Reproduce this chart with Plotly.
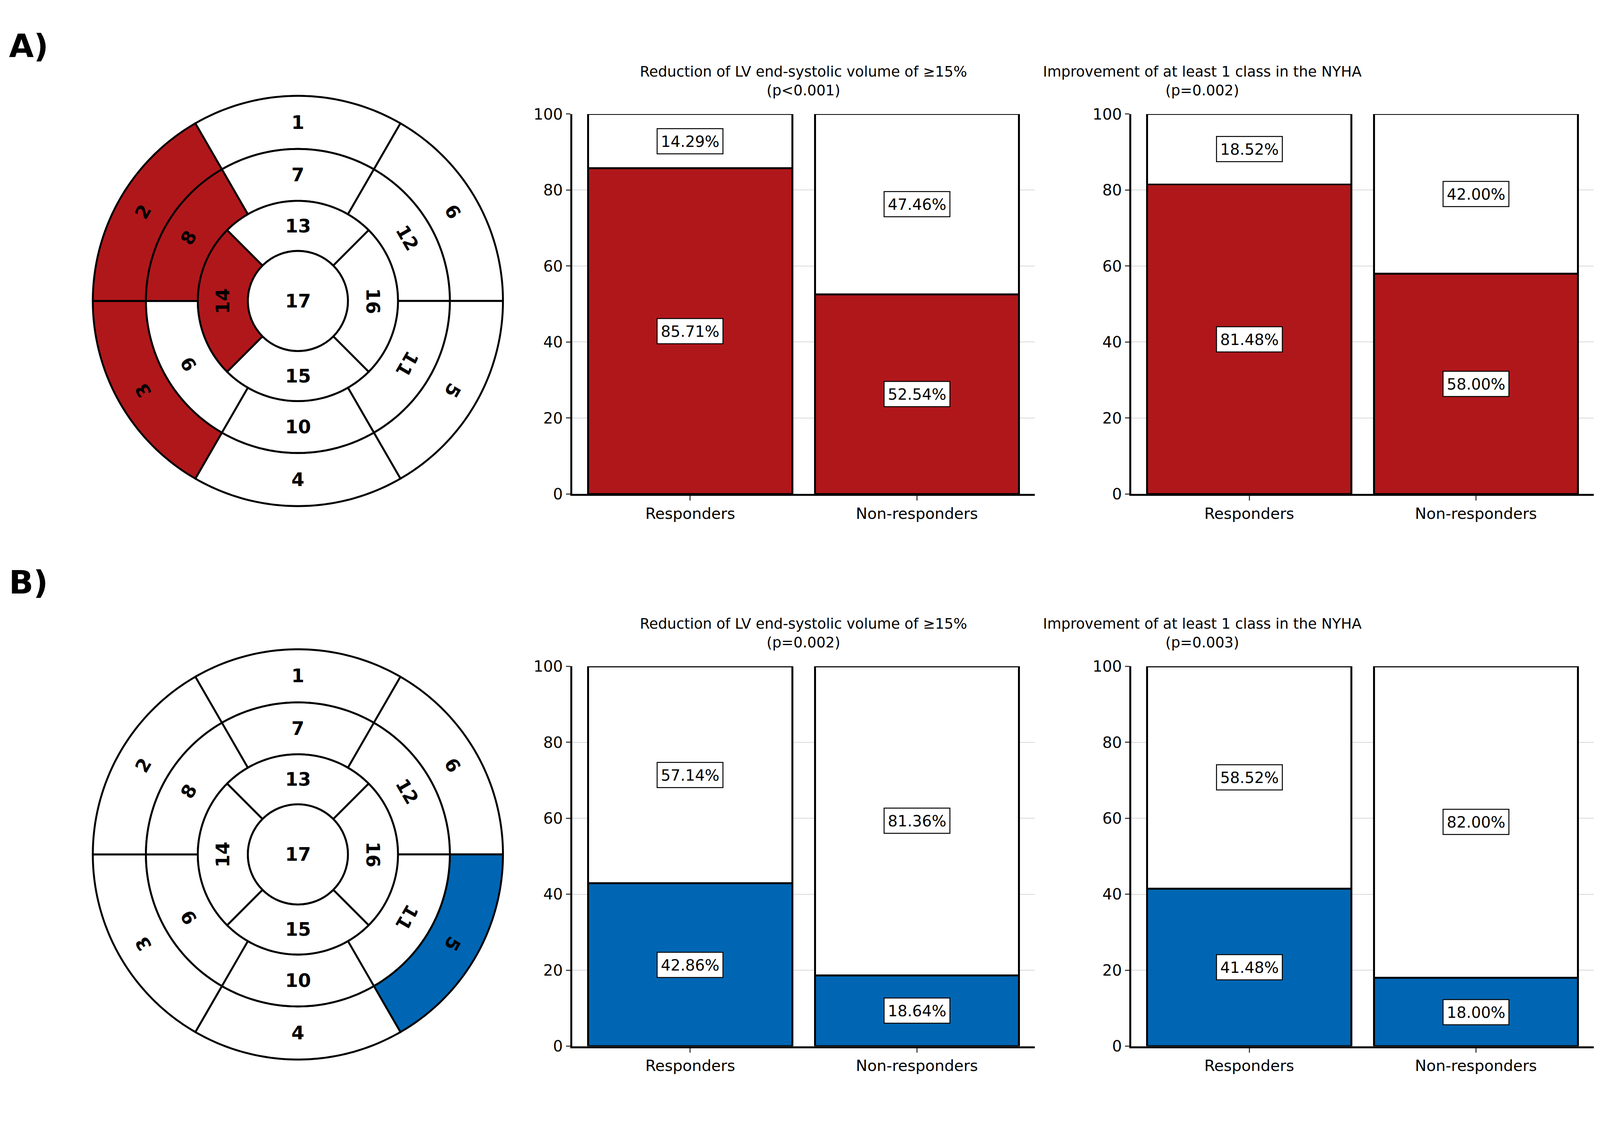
import numpy as np
import plotly.graph_objects as go

K = 1 / 1.22  # page zoom compensation
BH = 922.0

categories = ["Responders", "Non-responders"]
titles = ["Reduction of LV end-systolic volume of ≥15%", "Improvement of at least 1 class in the NYHA"]
pvals_A = ["p&lt;0.001", "p=0.002"]
pvals_B = ["p=0.002", "p=0.003"]
A1_bottom = [85.71, 52.54]; A1_top = [14.29, 47.46]
A2_bottom = [81.48, 58.00]; A2_top = [18.52, 42.00]
B1_bottom = [42.86, 18.64]; B1_top = [57.14, 81.36]
B2_bottom = [41.48, 18.00]; B2_top = [58.52, 82.00]
highlight_A = [2, 3, 8, 14]
highlight_B = [5]
RED = "#b0171b"
BLUE = "#0066b3"

FONT = "DejaVu Sans"
LW = 6 * K

def px_x(a, b):
    return [a / 1568.0, b / 1568.0]

def px_y(top, bot):
    return [1 - bot / BH, 1 - top / BH]

fig = go.Figure()
layout = dict(autosize=True, margin=dict(l=0, r=0, t=0, b=0),
              plot_bgcolor="white", paper_bgcolor="white", showlegend=False,
              font=dict(family=FONT, size=46 * K, color="black"))
shapes = []
annotations = []

panels = [
    ("x1", "y1", px_x(560, 1015), px_y(84, 397), A1_bottom, A1_top, RED, titles[0], pvals_A[0]),
    ("x2", "y2", px_x(1110, 1565), px_y(84, 397), A2_bottom, A2_top, RED, titles[1], pvals_A[1]),
    ("x3", "y3", px_x(560, 1015), px_y(539, 852), B1_bottom, B1_top, BLUE, titles[0], pvals_B[0]),
    ("x4", "y4", px_x(1110, 1565), px_y(539, 852), B2_bottom, B2_top, BLUE, titles[1], pvals_B[1]),
]
for i, (xa, ya, xd, yd, bot, top, col, title, p) in enumerate(panels):
    n = i + 1
    fig.add_trace(go.Bar(x=categories, y=bot, marker=dict(color=col, line=dict(color="black", width=LW)),
                         width=0.9, xaxis=xa, yaxis=ya))
    fig.add_trace(go.Bar(x=categories, y=top, marker=dict(color="white", line=dict(color="black", width=LW)),
                         width=0.9, xaxis=xa, yaxis=ya))
    layout[f"xaxis{n}"] = dict(domain=xd, range=[-0.52, 1.52], anchor=ya, showline=True, linecolor="black",
                               linewidth=LW, ticks="outside", ticklen=14 * K, tickwidth=4 * K, showgrid=False,
                               tickfont=dict(size=48 * K))
    layout[f"yaxis{n}"] = dict(domain=yd, range=[0, 100], anchor=xa, showline=True, linecolor="black",
                               linewidth=LW, ticks="outside", ticklen=14 * K, tickwidth=4 * K, dtick=20,
                               showgrid=True, gridcolor="#d9d9d9", gridwidth=3 * K, zeroline=False,
                               tickfont=dict(size=48 * K))
    for c, b, t in zip(categories, bot, top):
        for val, yy in ((b, b / 2), (t, b + t / 2)):
            annotations.append(dict(x=c, y=yy, xref=xa, yref=ya, text=f"{val:.2f}%", showarrow=False,
                                    font=dict(size=48 * K), bgcolor="white", bordercolor="black",
                                    borderwidth=3 * K, borderpad=10 * K))
    annotations.append(dict(x=(xd[0] + xd[1]) / 2, y=yd[1] + 12 / BH, xref="paper", yref="paper",
                            text=f"{title}<br>({p})", showarrow=False, yanchor="bottom",
                            font=dict(size=45 * K)))
layout["barmode"] = "stack"

radii = [0.0, 0.244, 0.488, 0.741, 1.0]
segs = []
starts6 = [60, 0, 300, 240, 180, 120]
for lab, s in zip([1, 6, 5, 4, 3, 2], starts6):
    segs.append((lab, radii[3], radii[4], s, s + 60))
for lab, s in zip([7, 12, 11, 10, 9, 8], starts6):
    segs.append((lab, radii[2], radii[3], s, s + 60))
for lab, s in zip([13, 16, 15, 14], [45, -45, 225, 135]):
    segs.append((lab, radii[1], radii[2], s, s + 90))

def sector_path(r0, r1, a0, a1):
    t = np.radians(np.linspace(a0, a1, 60))
    pts = [(r1 * np.cos(a), r1 * np.sin(a)) for a in t] + [(r0 * np.cos(a), r0 * np.sin(a)) for a in t[::-1]]
    return "M " + " L ".join(f"{x:.4f},{y:.4f}" for x, y in pts) + " Z"

bulls = [("x5", "y5", px_x(80, 500), px_y(28, 448), highlight_A, RED, 5),
         ("x6", "y6", px_x(80, 500), px_y(484, 904), highlight_B, BLUE, 6)]
for xa, ya, xd, yd, hl, col, n in bulls:
    R = 210 / 205
    layout[f"xaxis{n}"] = dict(domain=xd, range=[-R, R], visible=False, anchor=ya)
    layout[f"yaxis{n}"] = dict(domain=yd, range=[-R, R], visible=False, anchor=xa,
                               scaleanchor=xa, scaleratio=1)
    for lab, r0, r1, a0, a1 in segs:
        shapes.append(dict(type="path", path=sector_path(r0, r1, a0, a1), xref=xa, yref=ya,
                           fillcolor=col if lab in hl else "white", line=dict(color="black", width=LW)))
        th = (a0 + a1) / 2
        rm = (r0 + r1) / 2
        ang = 0 if (th % 180) == 90 else ((90 - th + 180) % 360 - 180)
        annotations.append(dict(x=rm * np.cos(np.radians(th)), y=rm * np.sin(np.radians(th)), xref=xa, yref=ya,
                                text=f"<b>{lab}</b>", showarrow=False, textangle=ang, font=dict(size=58 * K)))
    shapes.append(dict(type="circle", x0=-radii[1], x1=radii[1], y0=-radii[1], y1=radii[1], xref=xa, yref=ya,
                       fillcolor="white", line=dict(color="black", width=LW)))
    annotations.append(dict(x=0, y=0, xref=xa, yref=ya, text="<b>17</b>", showarrow=False, font=dict(size=58 * K)))
    fig.add_trace(go.Scatter(x=[0], y=[0], xaxis=xa, yaxis=ya, mode="markers", marker=dict(opacity=0),
                             hoverinfo="skip"))

annotations.append(dict(x=5 / 1568, y=1 - 28 / BH, xref="paper", yref="paper", text="<b>A)</b>",
                        showarrow=False, xanchor="left", yanchor="middle", font=dict(size=100 * K)))
annotations.append(dict(x=5 / 1568, y=1 - 470 / BH, xref="paper", yref="paper", text="<b>B)</b>",
                        showarrow=False, xanchor="left", yanchor="middle", font=dict(size=100 * K)))

layout["shapes"] = shapes
layout["annotations"] = annotations
fig.update_layout(**layout)
fig.write_html("out.html", default_width="100%", default_height="100vh",
               config={"responsive": True})
